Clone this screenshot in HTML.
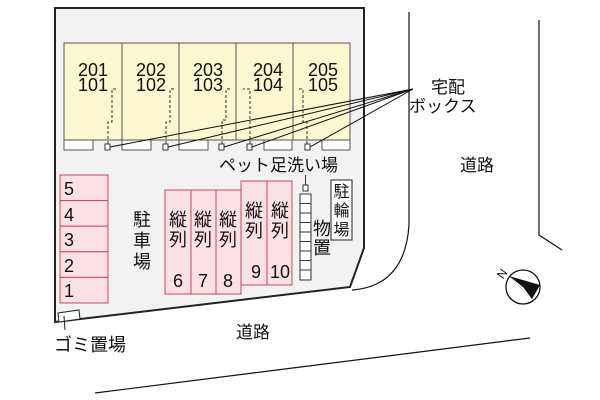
<!DOCTYPE html>
<html><head><meta charset="utf-8"><style>
html,body{margin:0;padding:0;background:#fff;}
svg{display:block;}
text{font-family:"Liberation Sans","Noto Sans CJK JP",sans-serif;fill:#111;}
</style></head><body>
<svg width="600" height="400" viewBox="0 0 600 400" xmlns="http://www.w3.org/2000/svg">
<polygon points="55,8 364,8 364,248 350,287 55,322" fill="#f2f2f2" stroke="#222" stroke-width="2"/>
<g stroke="#555" stroke-width="1">
<rect x="64" y="43" width="58" height="97" fill="#fbf7cf"/>
<rect x="122" y="43" width="57" height="97" fill="#fbf7cf"/>
<rect x="179" y="43" width="57" height="97" fill="#fbf7cf"/>
<rect x="236" y="43" width="57" height="97" fill="#fbf7cf"/>
<rect x="293" y="43" width="57" height="97" fill="#fbf7cf"/>
<rect x="64" y="140" width="29" height="10" fill="#fff"/>
<rect x="122" y="140" width="29" height="10" fill="#fff"/>
<rect x="179" y="140" width="29" height="10" fill="#fff"/>
<rect x="264" y="140" width="28" height="10" fill="#fff"/>
<rect x="322" y="140" width="28" height="10" fill="#fff"/>
</g>
<g font-size="18" text-anchor="middle">
<text x="93" y="76">201</text><text x="93" y="91">101</text>
<text x="151" y="76">202</text><text x="151" y="91">102</text>
<text x="208" y="76">203</text><text x="208" y="91">103</text>
<text x="268" y="76">204</text><text x="268" y="91">104</text>
<text x="323" y="76">205</text><text x="323" y="91">105</text>
</g>
<g stroke="#333" stroke-width="1" fill="none" stroke-dasharray="3,2">
<path d="M108,144 V122 H112 V89 H117"/>
<path d="M166,144 V122 H170 V89 H175"/>
<path d="M222,144 V120 H226 V89 H231"/>
<path d="M250,144 V89 H243"/>
<path d="M307,144 V122 H303 V89 H298"/>
</g>
<g fill="#fff" stroke="#333" stroke-width="1">
<rect x="105" y="144" width="5" height="6"/>
<rect x="163" y="144" width="5" height="6"/>
<rect x="219" y="144" width="5" height="6"/>
<rect x="247" y="144" width="5" height="6"/>
<rect x="305" y="144" width="5" height="6"/>
</g>
<g stroke="#111" stroke-width="1">
<line x1="110" y1="147" x2="413" y2="89"/>
<line x1="168" y1="147" x2="413" y2="89"/>
<line x1="224" y1="147" x2="413" y2="89"/>
<line x1="252" y1="147" x2="413" y2="89"/>
<line x1="310" y1="147" x2="413" y2="89"/>
</g>
<text x="431" y="93" font-size="17">宅配</text>
<text x="409" y="112" font-size="17">ボックス</text>
<text x="219" y="171" font-size="17">ペット足洗い場</text>
<g fill="#fbe0e6" stroke="#c9485e" stroke-width="1">
<rect x="60" y="175" width="48" height="25.6"/>
<rect x="60" y="200.6" width="48" height="25.6"/>
<rect x="60" y="226.2" width="48" height="25.6"/>
<rect x="60" y="251.8" width="48" height="25.6"/>
<rect x="60" y="277.4" width="48" height="25.6"/>
<rect x="165" y="190" width="26" height="104"/>
<rect x="191" y="190" width="25" height="104"/>
<rect x="216" y="190" width="25" height="104"/>
<rect x="241" y="181" width="26" height="104"/>
<rect x="267" y="181" width="25" height="104"/>
</g>
<g font-size="18">
<text x="64" y="195">5</text><text x="64" y="221">4</text><text x="64" y="246">3</text><text x="64" y="272">2</text><text x="64" y="297">1</text>
</g>
<g font-size="18" text-anchor="middle">
<text x="178" y="287">6</text><text x="203" y="287">7</text><text x="228" y="287">8</text>
<text x="256" y="278">9</text><text x="280" y="278">10</text>
<text x="178" y="226">縦</text><text x="178" y="246">列</text>
<text x="203" y="226">縦</text><text x="203" y="246">列</text>
<text x="228" y="226">縦</text><text x="228" y="246">列</text>
<text x="254" y="217">縦</text><text x="254" y="237">列</text>
<text x="280" y="217">縦</text><text x="280" y="237">列</text>
<text x="142" y="226">駐</text><text x="142" y="247">車</text><text x="142" y="268">場</text>
<text x="322" y="235">物</text><text x="322" y="254">置</text>
</g>
<rect x="303" y="185" width="5" height="6" fill="#fff" stroke="#333"/>
<line x1="305.5" y1="175" x2="305.5" y2="185" stroke="#333"/>
<rect x="300" y="194" width="11" height="86" fill="#fff" stroke="#333"/>
<g stroke="#333" stroke-width="1">
<line x1="300" y1="203.5" x2="311" y2="203.5"/><line x1="300" y1="213" x2="311" y2="213"/>
<line x1="300" y1="222.5" x2="311" y2="222.5"/><line x1="300" y1="232" x2="311" y2="232"/>
<line x1="300" y1="241.5" x2="311" y2="241.5"/><line x1="300" y1="251" x2="311" y2="251"/>
<line x1="300" y1="260.5" x2="311" y2="260.5"/><line x1="300" y1="270" x2="311" y2="270"/>
</g>
<rect x="331" y="180" width="21" height="60" fill="#fff" stroke="#222"/>
<g font-size="16" text-anchor="middle">
<text x="341.5" y="197">駐</text><text x="341.5" y="216">輪</text><text x="341.5" y="235">場</text>
</g>
<polygon points="58,313 79,310 80,319 59,322" fill="#fff" stroke="#222"/>
<line x1="64" y1="316" x2="65" y2="330" stroke="#222"/>
<text x="54" y="351" font-size="18">ゴミ置場</text>
<path d="M409,12 V225 Q405,286 352,290" fill="none" stroke="#111" stroke-width="1.2"/>
<path d="M539,20 V235 L562,250" fill="none" stroke="#111" stroke-width="1.2"/>
<line x1="95" y1="393" x2="530" y2="338" stroke="#111" stroke-width="1.2"/>
<text x="236" y="338" font-size="17">道路</text>
<text x="460" y="171" font-size="17">道路</text>
<circle cx="523" cy="287" r="17" fill="#fff" stroke="#111" stroke-width="1.3"/>
<polygon points="509,276 540,285 532,299" fill="#111"/>
<polygon points="509,276 523,287 532,299" fill="#fff"/>
<text x="498" y="278" font-size="12" transform="rotate(-55 502 274)">N</text>
</svg>
</body></html>
